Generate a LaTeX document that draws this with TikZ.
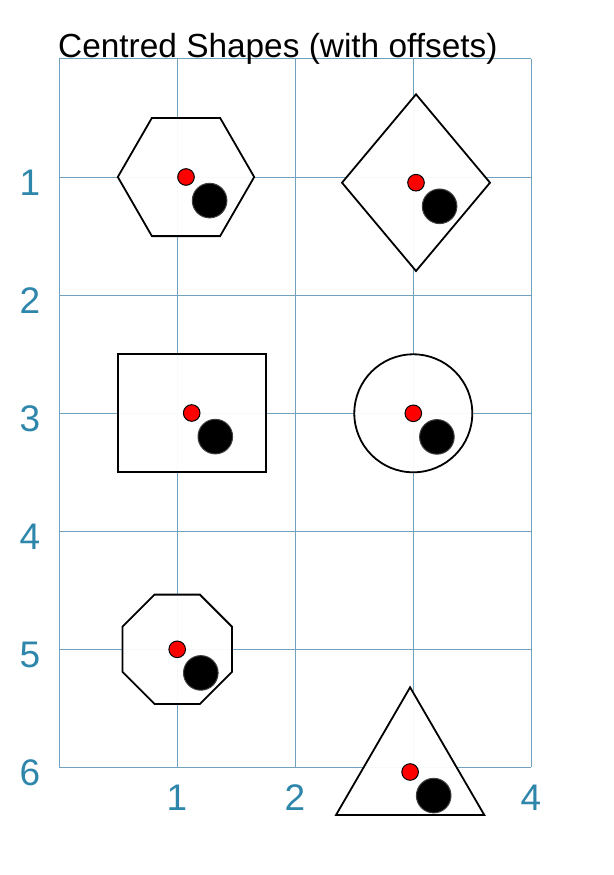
\documentclass[tikz,border=0pt]{standalone}
\usepackage{fontspec}
\setmainfont{Liberation Sans}
\definecolor{axisblue}{RGB}{46,134,171}
\definecolor{gridblue}{RGB}{112,162,192}
\begin{document}
\begin{tikzpicture}[x=1pt,y=-1pt,
  gridline/.style={gridblue, line width=1pt},
  shapeline/.style={draw=black, line width=1.8pt, fill=white, fill opacity=0.95, line join=miter},
  reddot/.style={fill=red, draw=black, line width=1pt},
  blackdot/.style={fill=black, draw=black!75, line width=1pt},
  axislabel/.style={text=axisblue, font=\fontsize{37}{40}\selectfont, inner sep=0pt, anchor=base},
  titlestyle/.style={font=\fontsize{33.4}{38}\selectfont, inner sep=0pt, anchor=base west}]
\useasboundingbox (0,0) rectangle (613,875);
\fill[white] (0,0) rectangle (613,875);
% grid
\foreach \i in {0,...,4} \draw[gridline] ({59+118*\i},59) -- ({59+118*\i},767);
\foreach \j in {0,...,6} \draw[gridline] (59,{59+118*\j}) -- (531,{59+118*\j});
% axis labels
\foreach \j in {1,...,6} \node[axislabel] (ylab\j) at (30,{59+118*\j+18}) {\j};
\node[axislabel] (xlab1) at (177,810.7) {1};
\node[axislabel] (xlab2) at (295,810.7) {2};
\node[axislabel] (xlab4) at (531,810.7) {4};
% title
\node[titlestyle] (title) at (58,58) {Centred Shapes (with offsets)};
% hexagon
\draw[shapeline] (254.2,177) -- (220.1,236.1) -- (151.9,236.1) -- (117.8,177) -- (151.9,117.9) -- (220.1,117.9) -- cycle;
\draw[reddot] (186,177) circle[radius=8.3];
\draw[blackdot] (209.6,200.6) circle[radius=17.3];
% diamond
\draw[shapeline] (416,94.3) -- (490,182.7) -- (416,271) -- (342,182.7) -- cycle;
\draw[reddot] (416,182.7) circle[radius=8.3];
\draw[blackdot] (439.6,206.3) circle[radius=17.3];
% rectangle
\draw[shapeline] (117.7,354.3) rectangle (265.7,472);
\draw[reddot] (191.7,413) circle[radius=8.3];
\draw[blackdot] (215.3,436.6) circle[radius=17.3];
% circle
\draw[shapeline] (413.3,413.3) circle[radius=59];
\draw[reddot] (413.3,413.3) circle[radius=8.3];
\draw[blackdot] (436.9,436.9) circle[radius=17.3];
% octagon
\draw[shapeline] (231.9,626.65) -- (231.9,671.95) -- (199.85,704) -- (154.55,704) -- (122.5,671.95) -- (122.5,626.65) -- (154.55,594.6) -- (199.85,594.6) -- cycle;
\draw[reddot] (177.2,649.3) circle[radius=8.3];
\draw[blackdot] (200.8,672.9) circle[radius=17.3];
% triangle
\draw[shapeline] (410.1,687.3) -- (484.3,815) -- (336,815) -- cycle;
\draw[reddot] (410.1,772) circle[radius=8.3];
\draw[blackdot] (433.7,795.6) circle[radius=17.3];
\end{tikzpicture}
\end{document}
